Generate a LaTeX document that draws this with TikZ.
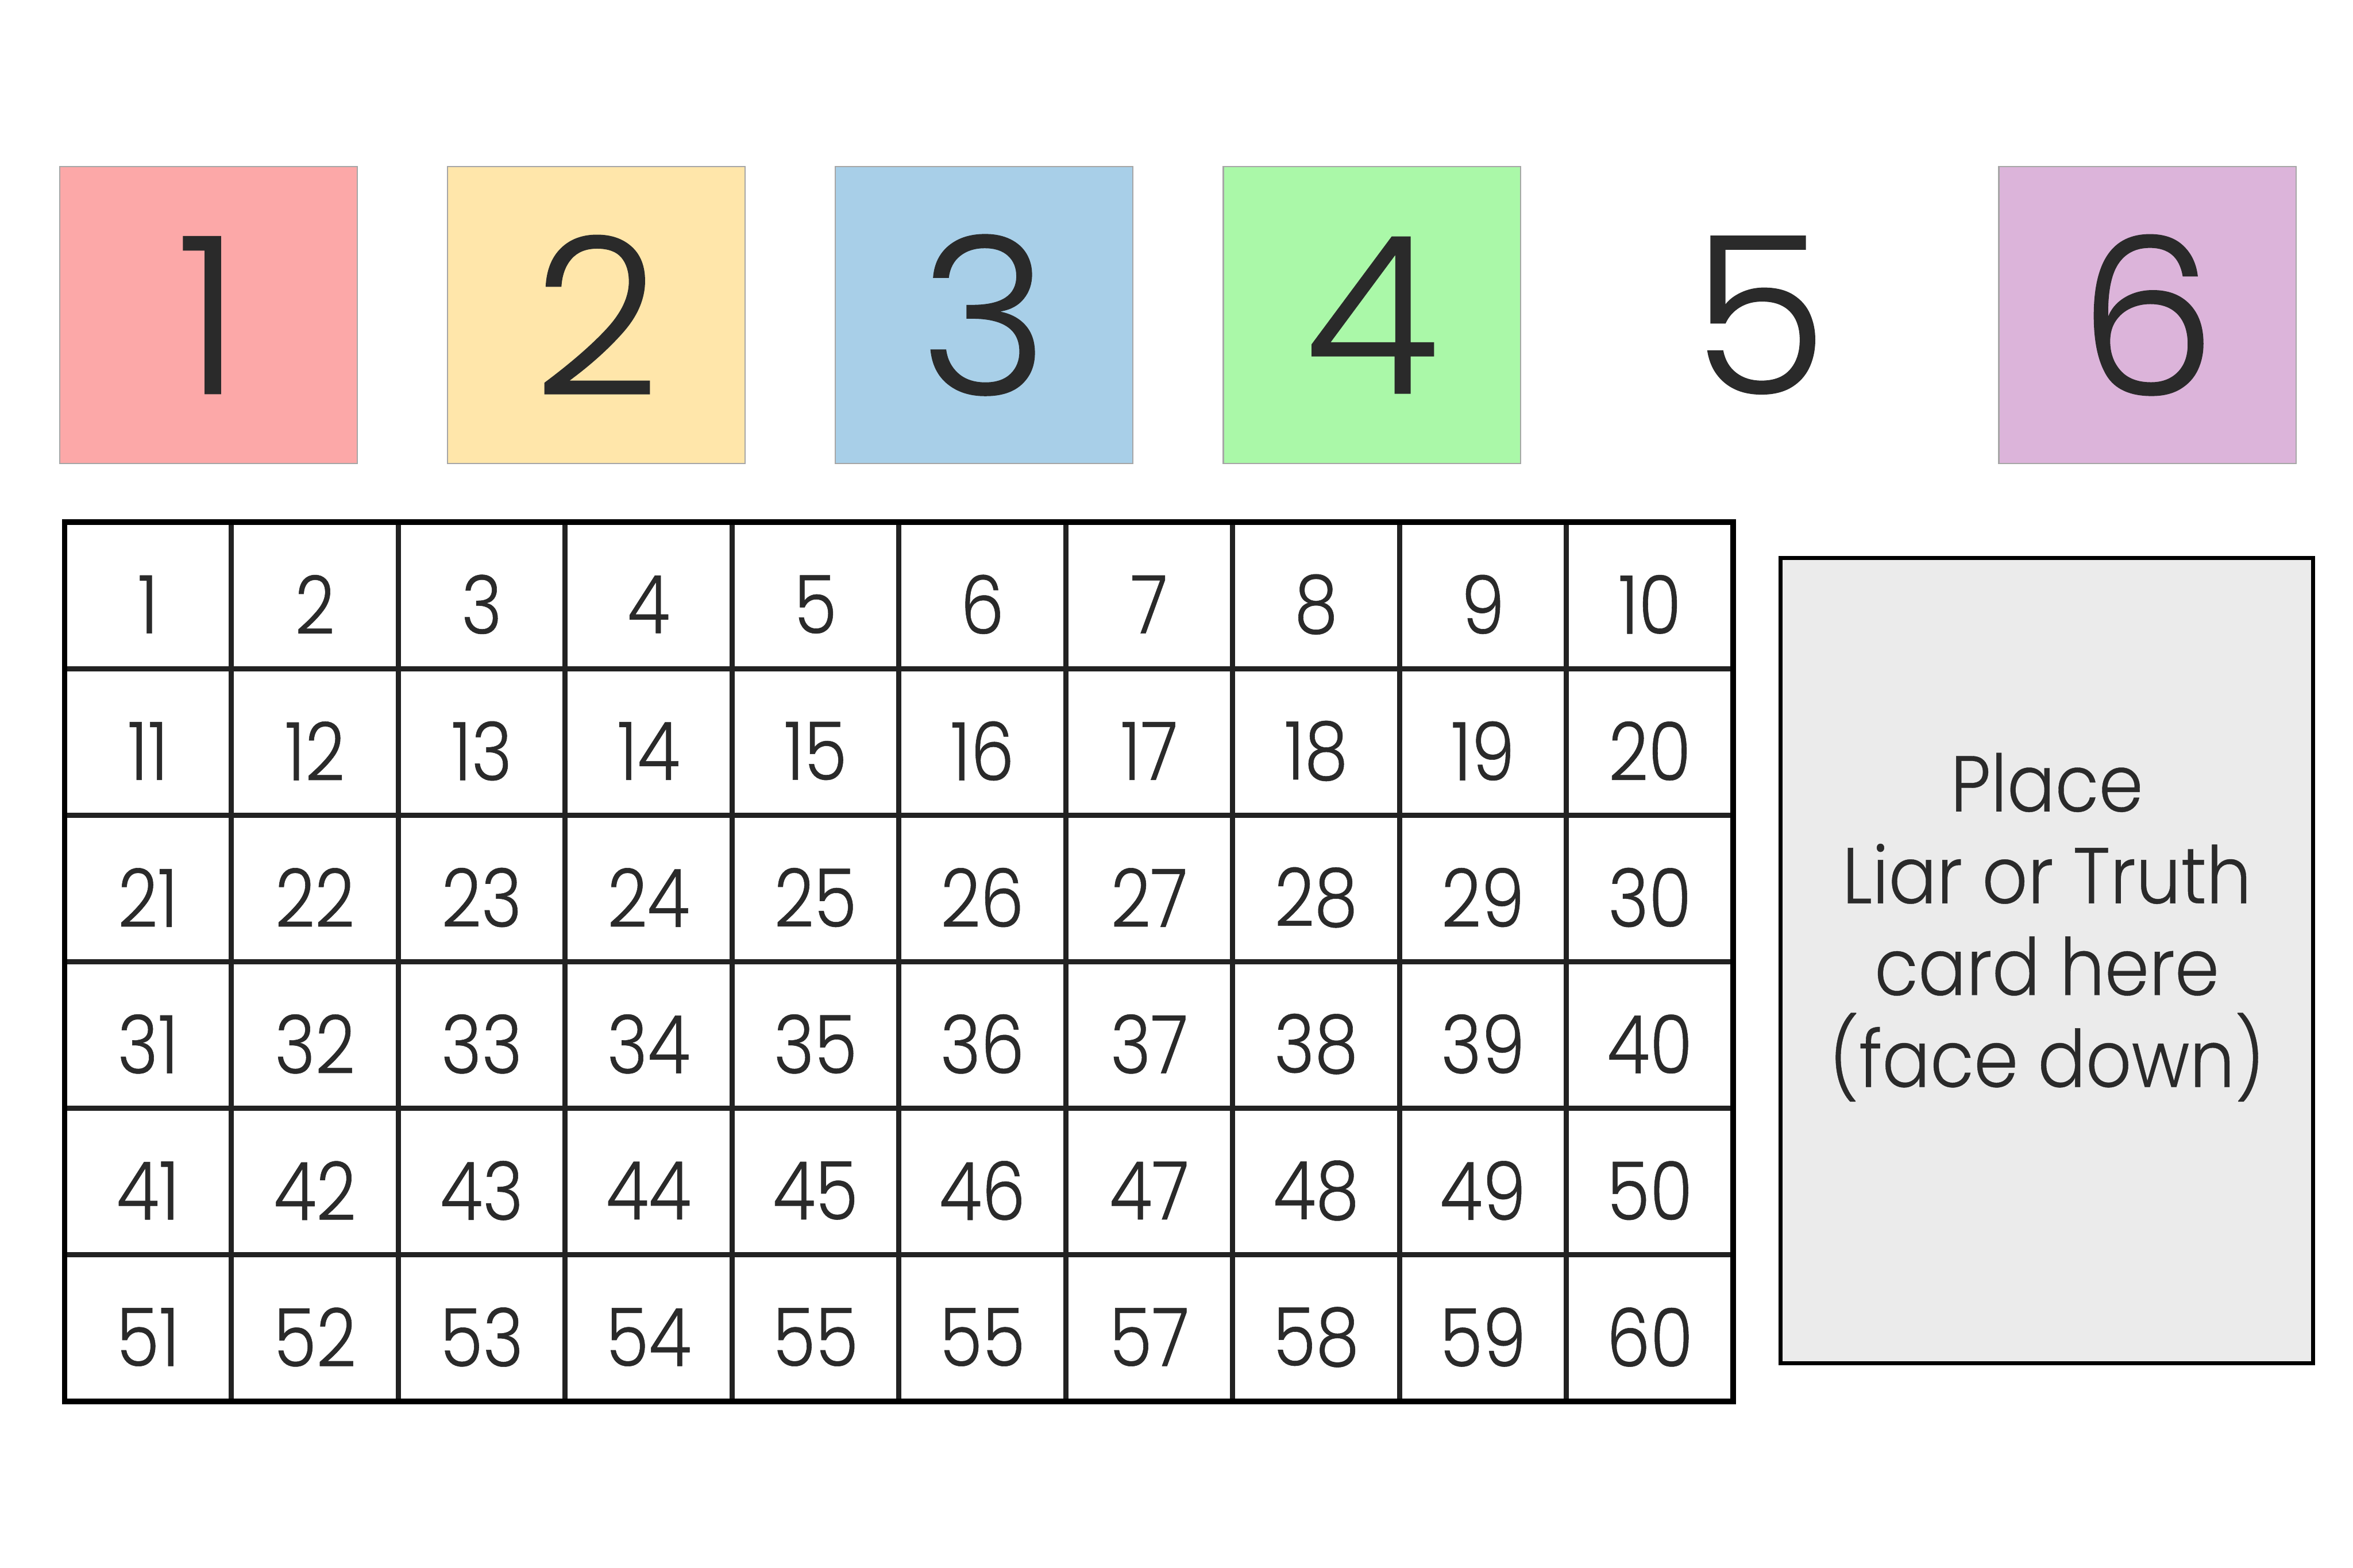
\documentclass[tikz,border=0pt]{standalone}
\usepackage{fontspec}
\setmainfont{Poppins}[UprightFont=* Light, FakeBold=0.4]
\newfontfamily\gridfont{Poppins}[UprightFont=* Light, FakeStretch=0.86, FakeBold=0.4]
\newfontfamily\cardfont{Poppins}[UprightFont=* Light, FakeStretch=0.9, FakeBold=0.3]

\definecolor{ink}{HTML}{2A2A2A}
\definecolor{tileedge}{HTML}{A6A6A6}
\definecolor{tileRed}{HTML}{FCA8A8}
\definecolor{tileYellow}{HTML}{FFE6AA}
\definecolor{tileBlue}{HTML}{A8CFE8}
\definecolor{tileGreen}{HTML}{AAF8A8}
\definecolor{tilePurple}{HTML}{DCB4DA}
\definecolor{cardgray}{HTML}{EBEBEB}
\definecolor{gridgray}{HTML}{222222}

\tikzset{
  tile/.style={draw=tileedge, line width=0.25pt, minimum size=1.98cm, inner sep=0pt,
    text=ink, font=\fontsize{41.6}{44}\selectfont},
  cellnum/.style={text=ink, inner sep=0pt, font=\gridfont\fontsize{15.3}{17}\selectfont},
  innerline/.style={gridgray, line width=1pt},
  outerline/.style={black, line width=1.05pt},
  cardbox/.style={draw=black, fill=cardgray, line width=0.75pt,
    minimum width=3.547cm, minimum height=5.362cm, inner sep=0pt},
  cardtext/.style={text=ink, align=center, inner sep=0pt,
    font=\cardfont\fontsize{15}{17.4}\selectfont}
}

\begin{document}
\begin{tikzpicture}[x=0.01cm, y=-0.01cm]

    \useasboundingbox[fill=white] (0,0) rectangle (1568,1045);

    % number tiles
    \node[tile, fill=tileRed] (t1) at (139,210) {1};
    \node[tile, fill=tileYellow] (t2) at (397.4,210) {2};
    \node[tile, fill=tileBlue] (t3) at (655.8,210) {3};
    \node[tile, fill=tileGreen] (t4) at (914.2,210) {4};
    \node[tile, draw=none] (t5) at (1172.6,210) {5};
    \node[tile, fill=tilePurple] (t6) at (1431,210) {6};

    % hundred board (60)
    \foreach \i in {1,...,9}
        \draw[innerline] ({43+111.2*\i},348) -- ({43+111.2*\i},934);
    \foreach \j in {1,...,5}
        \draw[innerline] (43,{348+97.67*\j}) -- (1155,{348+97.67*\j});
    \draw[outerline] (43,348) rectangle (1155,934);

    \foreach \r in {0,...,4}
        \foreach \c in {1,...,10} {
            \pgfmathtruncatemacro\n{10*\r+\c}
            \node[cellnum] (n-\r-\c) at ({43+111.2*(\c-0.5)},{348+97.67*(\r+0.5)+6}) {\n};
        }
    \foreach \lab [count=\c] in {51,52,53,54,55,55,57,58,59,60}
        \node[cellnum] (n-5-\c) at ({43+111.2*(\c-0.5)},{348+97.67*5.5+6}) {\lab};

    % card slot
    \node[cardbox] (slot) at (1364,640.3) {};
    \node[cardtext] (slottext) at (1364,618) {Place\\Liar or Truth\\card here\\(face down)};

\end{tikzpicture}
\end{document}
